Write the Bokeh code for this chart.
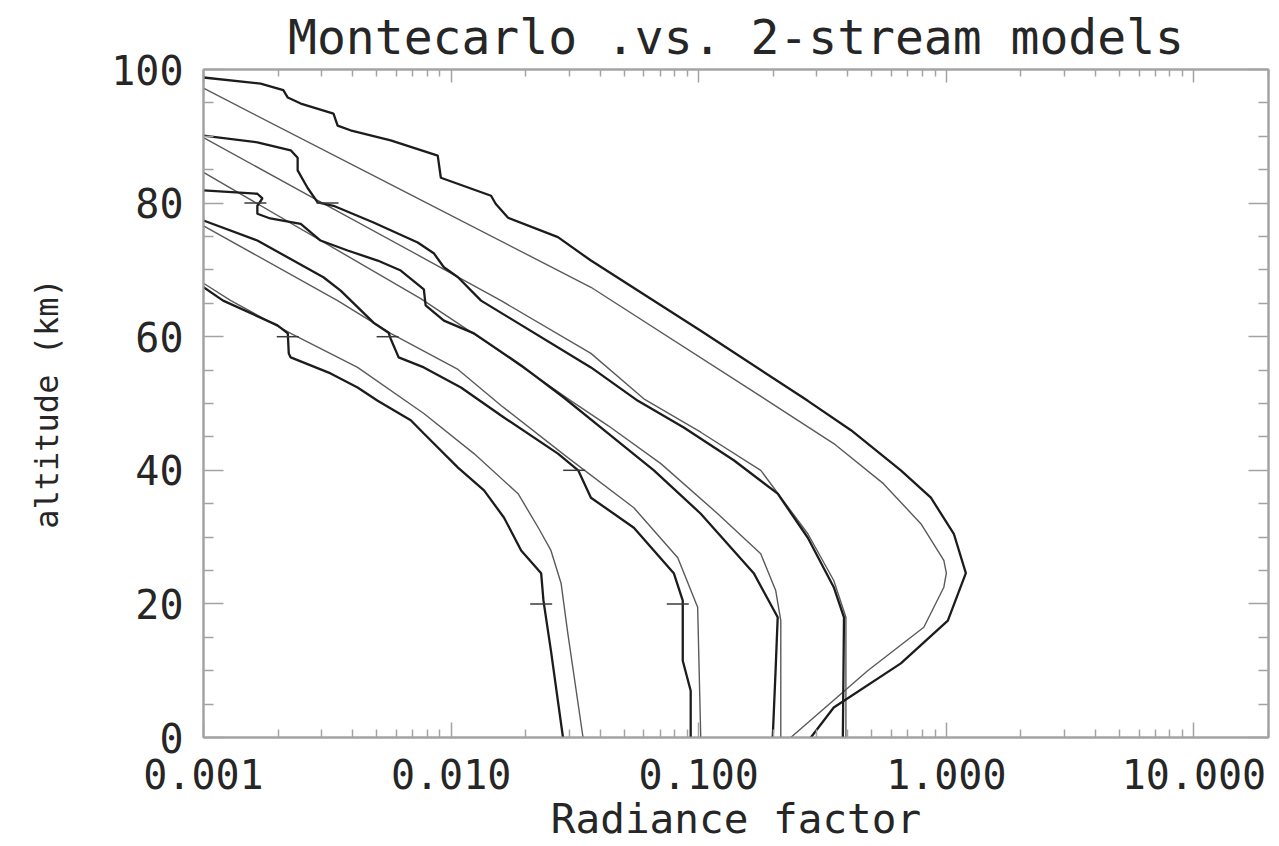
from bokeh.plotting import figure
from bokeh.models import (FixedTicker, LinearAxis, LogAxis,
                          PrintfTickFormatter, Range1d)
from bokeh.embed import file_html
from bokeh.resources import INLINE

# ---- Monte Carlo profiles (jagged, heavy lines) ----
mc_a_x = [0.00100, 0.00170, 0.00210, 0.00219, 0.00247, 0.00335, 0.00348, 0.00392,
          0.00570, 0.00883, 0.00909, 0.01450, 0.01513, 0.01698, 0.0270, 0.0367,
          0.1019, 0.2758, 0.412, 0.655, 0.866, 1.072, 1.199, 1.014, 0.655, 0.351, 0.2836]
mc_a_z = [98.8, 97.9, 96.9, 95.8, 94.9, 93.4, 91.6, 90.9,
          89.4, 87.1, 83.8, 81.1, 79.9, 77.8, 74.9, 71.4,
          60.9, 50.4, 46.0, 40.0, 35.9, 30.5, 24.6, 17.5, 11.1, 4.5, 0.0]

mc_b_x = [0.00100, 0.00165, 0.00225, 0.00240, 0.00240, 0.00263, 0.00289, 0.00335,
          0.00486, 0.00733, 0.00851, 0.00935, 0.01066, 0.01321, 0.0367, 0.0568,
          0.0870, 0.1385, 0.2084, 0.2758, 0.351, 0.386, 0.382]
mc_b_z = [90.1, 89.1, 87.9, 86.8, 84.9, 82.3, 80.1, 79.6,
          77.1, 74.1, 72.5, 70.4, 68.9, 65.4, 55.4, 50.4,
          46.4, 41.5, 36.5, 29.9, 22.5, 18.0, 0.0]

mc_c_x = [0.00100, 0.00165, 0.00173, 0.00165, 0.00165, 0.00186, 0.00247, 0.00297,
          0.00382, 0.00505, 0.00626, 0.00776, 0.00789, 0.00935, 0.01237, 0.01918,
          0.0285, 0.0403, 0.0659, 0.1019, 0.1668, 0.2084, 0.2046, 0.1990]
mc_c_z = [81.9, 81.4, 80.7, 79.6, 78.4, 77.7, 76.9, 74.4,
          72.9, 71.4, 69.9, 67.1, 64.7, 62.4, 60.5, 55.7,
          50.9, 46.4, 40.0, 33.5, 24.6, 18.0, 10.5, 0.0]

mc_d_x = [0.00100, 0.00165, 0.00305, 0.00358, 0.00486, 0.00559, 0.00570, 0.00614,
          0.00776, 0.01096, 0.01591, 0.0270, 0.0326, 0.0367, 0.0547, 0.0793,
          0.0862, 0.0862, 0.0928, 0.0928]
mc_d_z = [77.4, 74.4, 68.9, 66.9, 62.1, 60.6, 59.7, 56.9,
          55.4, 52.4, 48.2, 42.5, 40.0, 35.9, 31.4, 24.6,
          20.5, 11.5, 7.0, 0.0]

mc_e_x = [0.00100, 0.00120, 0.00199, 0.00219, 0.00221, 0.00225, 0.00326, 0.00419,
          0.00505, 0.00687, 0.00776, 0.01066, 0.01358, 0.01636, 0.01918, 0.0231,
          0.0236, 0.0253, 0.0283]
mc_e_z = [67.4, 65.4, 61.7, 60.5, 57.5, 56.9, 54.5, 52.4,
          50.4, 47.5, 45.5, 40.4, 37.0, 32.9, 28.0, 24.6,
          20.5, 13.0, 0.0]

# ---- two-stream model profiles (smooth, light lines) ----
ts_a_x = [0.00100, 0.00626, 0.0367, 0.1900, 0.351, 0.557, 0.789, 0.977, 1.000, 0.977,
          0.811, 0.481, 0.2353]
ts_a_z = [97.2, 82.0, 67.4, 50.4, 44.0, 38.0, 32.0, 26.5, 24.6, 22.5,
          16.5, 10.0, 0.0]

ts_b_x = [0.00100, 0.00289, 0.00754, 0.01591, 0.0367, 0.0600, 0.1019, 0.1780,
          0.2758, 0.351, 0.393, 0.393]
ts_b_z = [89.8, 80.4, 72.0, 65.4, 57.5, 50.7, 45.7, 40.0,
          30.5, 23.5, 18.0, 0.0]

ts_c_x = [0.00100, 0.00754, 0.01450, 0.0305, 0.0430, 0.0703, 0.1193, 0.1780,
          0.2046, 0.2145, 0.2145]
ts_c_z = [84.6, 65.7, 58.7, 50.4, 46.7, 41.0, 33.5, 27.5,
          22.0, 17.5, 0.0]

ts_d_x = [0.00100, 0.00348, 0.00570, 0.01066, 0.01591, 0.0296, 0.0547, 0.0823,
          0.0990, 0.1019]
ts_d_z = [76.6, 65.4, 60.5, 55.1, 49.7, 41.9, 34.4, 26.9,
          19.5, 0.0]

ts_e_x = [0.00100, 0.00129, 0.00225, 0.00419, 0.00776, 0.01237, 0.01864, 0.0225,
          0.0253, 0.0278, 0.0296, 0.0341]
ts_e_z = [68.0, 65.4, 60.5, 55.4, 48.5, 42.5, 36.5, 31.4,
          28.0, 23.1, 15.6, 0.0]

# small tick marks sitting on the Monte Carlo profiles
mark_x = [0.00162, 0.00317, 0.00219, 0.00554, 0.0314, 0.0231, 0.0823]
mark_z = [80.0, 80.0, 60.0, 60.0, 40.0, 20.0, 20.0]

# axis ticks
x_major = [0.001, 0.01, 0.1, 1.0, 10.0]
x_minor = [m * d for d in [0.001, 0.01, 0.1, 1.0, 10.0] for m in range(2, 10) if m * d <= 20]
y_major = [0, 20, 40, 60, 80, 100]
y_minor = [v for v in range(0, 101, 5) if v % 20]

TITLE = "Montecarlo .vs. 2-stream models"
XLABEL = "Radiance factor"
YLABEL = "altitude (km)"

FONT = "DejaVu Sans Mono"
TXT = "#262626"
FRAME = "#a3a3a3"

p = figure(width=1279, height=846, x_axis_type="log",
           x_range=Range1d(0.001, 20), y_range=Range1d(0, 100),
           output_backend="svg", toolbar_location=None,
           min_border_left=203, min_border_right=11,
           min_border_top=69, min_border_bottom=109)

p.background_fill_color = "white"
p.border_fill_color = "white"
p.outline_line_color = FRAME
p.outline_line_width = 2
p.xgrid.visible = False
p.ygrid.visible = False

p.title.text = TITLE
p.title.align = "center"
p.title.text_font = FONT
p.title.text_font_size = "48px"
p.title.text_font_style = "normal"
p.title.text_color = TXT
p.title.standoff = 9


def style_axis(ax, major_in, minor_in, labels=True):
    ax.axis_line_color = FRAME
    ax.axis_line_width = 2
    ax.major_tick_line_color = FRAME
    ax.minor_tick_line_color = FRAME
    ax.major_tick_line_width = 1.5
    ax.minor_tick_line_width = 1.5
    ax.major_tick_in = major_in
    ax.major_tick_out = 0
    ax.minor_tick_in = minor_in
    ax.minor_tick_out = 0
    if labels:
        ax.major_label_text_font = FONT
        ax.major_label_text_font_size = "40px"
        ax.major_label_text_color = TXT
        ax.axis_label_text_font = FONT
        ax.axis_label_text_font_style = "normal"
        ax.axis_label_text_color = TXT
    else:
        # tick marks only on the opposite sides of the box
        ax.major_label_text_font_size = "1px"
        ax.major_label_text_color = None
        ax.major_label_standoff = 0
        ax.axis_label_standoff = 0


xt = FixedTicker(ticks=x_major, minor_ticks=x_minor)
yt = FixedTicker(ticks=y_major, minor_ticks=y_minor)

xa = p.xaxis[0]
xa.ticker = xt
xa.formatter = PrintfTickFormatter(format="%.3f")
style_axis(xa, 15, 8)
xa.major_label_standoff = 21
xa.axis_label = XLABEL
xa.axis_label_text_font_size = "41px"
xa.axis_label_standoff = 3

ya = p.yaxis[0]
ya.ticker = yt
style_axis(ya, 20, 10)
ya.major_label_standoff = 20
ya.axis_label = YLABEL
ya.axis_label_text_font_size = "32px"
ya.axis_label_standoff = 42

top = LogAxis(ticker=xt)
style_axis(top, 13, 7, labels=False)
p.add_layout(top, "above")
right = LinearAxis(ticker=yt)
style_axis(right, 20, 10, labels=False)
p.add_layout(right, "right")

heavy = dict(line_color="#1c1c1c", line_width=2.3)
light = dict(line_color="#5a5a5a", line_width=1.4)

for xs, zs in [(ts_a_x, ts_a_z), (ts_b_x, ts_b_z), (ts_c_x, ts_c_z),
               (ts_d_x, ts_d_z), (ts_e_x, ts_e_z)]:
    p.line(xs, zs, **light)

for xs, zs in [(mc_a_x, mc_a_z), (mc_b_x, mc_b_z), (mc_c_x, mc_c_z),
               (mc_d_x, mc_d_z), (mc_e_x, mc_e_z)]:
    p.line(xs, zs, **heavy)

p.scatter(mark_x, mark_z, marker="dash", size=22, line_color="#3a3a3a", line_width=1.5)

open("out.html", "w").write(file_html(p, INLINE))
